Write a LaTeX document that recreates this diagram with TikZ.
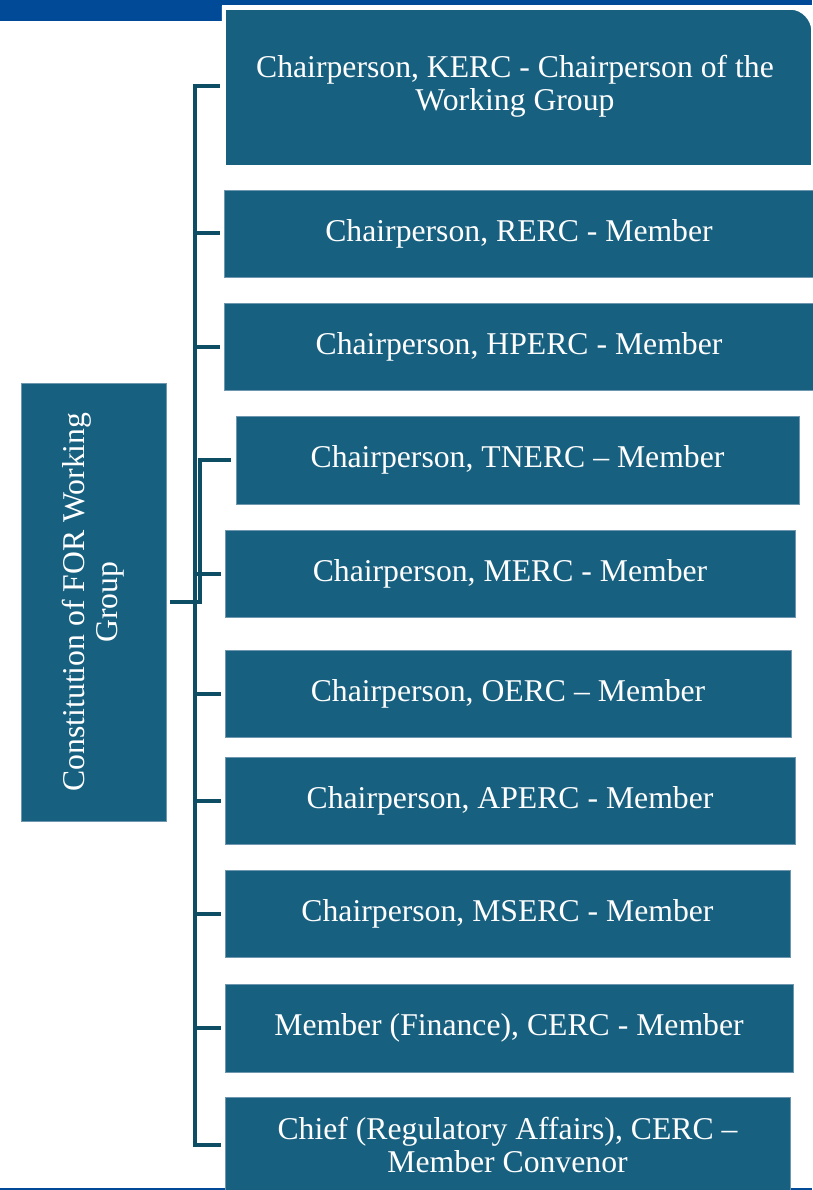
\documentclass[tikz,border=0pt]{standalone}
\usepackage{fontspec}
\setmainfont{Liberation Serif}
\definecolor{boxc}{RGB}{23,96,128}
\definecolor{boxedge}{RGB}{110,150,175}
\definecolor{connc}{RGB}{14,78,100}
\definecolor{bandc}{RGB}{0,74,152}
\tikzset{
  boxstyle/.style={rectangle, fill=boxc, draw=boxedge, line width=0.8pt, text=white, align=center,
    inner sep=0pt, font=\fontsize{31.7}{33}\selectfont},
  boxtext/.style={rectangle, text=white, align=center, inner sep=0pt, font=\fontsize{31.7}{33}\selectfont},
  conn/.style={draw=connc, line width=4pt, line join=miter, line cap=butt},
}
\begin{document}
\begin{tikzpicture}[x=1pt,y=-1pt]
\useasboundingbox (0,0) rectangle (812,1190);
% top band and bottom rule
\fill[bandc] (0,0) rectangle (222,21);
\fill[bandc] (222,0) rectangle (812,5);
\fill[bandc] (0,1187.5) rectangle (812,1190);
% first box with rounded top-right corner
\node[boxtext, minimum width=589, minimum height=157] (b1) at (518.5,86.5) {};
\path[draw=white, line width=4pt, fill=boxc]
  (b1.south west) -- (b1.north west) -- ([xshift=-22pt]b1.north east)
  .. controls ([xshift=-10pt]b1.north east) and ([yshift=-12pt]b1.north east) .. ([yshift=-22pt]b1.north east)
  -- ([yshift=-2pt]b1.south east) -- ([yshift=-2pt]b1.south west) -- cycle;
\node[boxtext] (t1) at (515,86) {Chairperson, KERC - Chairperson of the\\Working Group};
% member boxes
\node[boxstyle, minimum width=589, minimum height=87] (b2) at (519,233.5) {Chairperson, RERC - Member};
\node[boxstyle, minimum width=589, minimum height=87] (b3) at (519,346.5) {Chairperson, HPERC - Member};
\node[boxstyle, minimum width=563, minimum height=88] (b4) at (517.5,460) {Chairperson, TNERC -- Member};
\node[boxstyle, minimum width=570, minimum height=87] (b5) at (510,573.5) {Chairperson, MERC - Member};
\node[boxstyle, minimum width=566, minimum height=87] (b6) at (508,693.5) {Chairperson, OERC -- Member};
\node[boxstyle, minimum width=570, minimum height=87] (b7) at (510,800.5) {Chairperson, APERC - Member};
\node[boxstyle, minimum width=565, minimum height=87] (b8) at (507.5,913.5) {Chairperson, MSERC - Member};
\node[boxstyle, minimum width=568, minimum height=88] (b9) at (509,1028) {Member (Finance), CERC - Member};
\node[boxstyle, minimum width=565, minimum height=95] (b10) at (507.5,1144.5) {Chief (Regulatory Affairs), CERC --\\Member Convenor};
% left box
\node[boxstyle, rotate=90, minimum width=438, minimum height=145] (L) at (93.5,602) {Constitution of FOR Working\\Group};
% connectors
\coordinate (trunk) at (195,0);
\coordinate (br) at (200,0);
\draw[conn] ([xshift=-4pt]b1.west) -| (trunk |- b10.west) -- ([xshift=-4pt]b10.west);
\foreach \b in {b2,b3,b5,b6,b7,b8,b9}{
  \draw[conn] (trunk |- \b.west) -- ([xshift=-4pt]\b.west);
}
\draw[conn] ([xshift=-5pt]b4.west) -| (br |- L.south) -- ([xshift=4pt]L.south);
\end{tikzpicture}
\end{document}
